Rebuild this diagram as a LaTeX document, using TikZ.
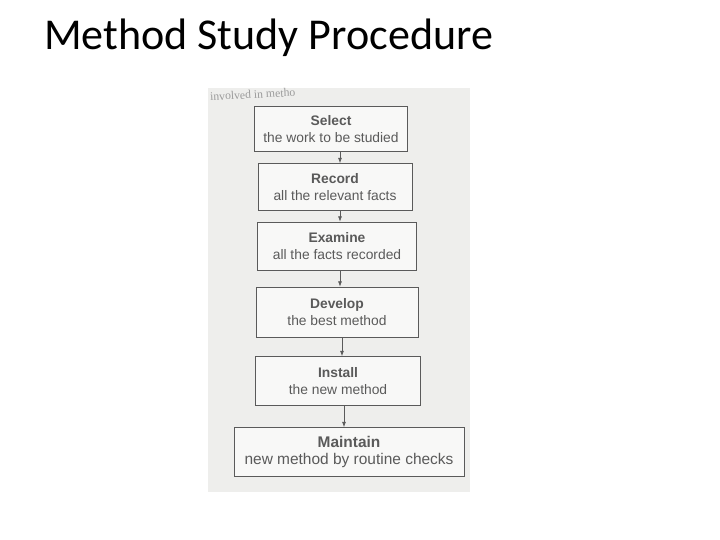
\documentclass[tikz,border=0pt]{standalone}
\usepackage{fontspec}
\setmainfont{Carlito}
\newfontfamily\boxfont{Liberation Sans}
\newfontfamily\pagefont{Liberation Serif}
\usepackage{xcolor}
\usetikzlibrary{arrows.meta, positioning}

\definecolor{inkgray}{HTML}{5A5A5A}
\definecolor{photogray}{HTML}{EEEEEC}

\tikzset{
    stepbox/.style={draw=inkgray, line width=0.6pt, fill=white!60!photogray, align=center,
        text=inkgray, font=\boxfont\fontsize{11.8}{14}\selectfont, inner sep=2pt},
    flow/.style={->, draw=inkgray, line width=0.6pt},
}

\begin{document}
\begin{tikzpicture}[x=0.03cm, y=-0.03cm, >={Latex[length=1.6mm, width=1.2mm]}]
    \useasboundingbox (0,0) rectangle (720,540);
    % photo of the textbook page
    \fill[photogray] (208,88) rectangle (470,492);
    \node[anchor=west, text=inkgray!60, font=\pagefont\fontsize{10}{12}\selectfont, rotate=3]
        (pageline) at (206,97) {involved in metho};
    % title
    \node[anchor=west, font=\fontsize{37.6}{45}\selectfont] (title) at (40,38) {Method Study Procedure};
    % the six steps
    \node[stepbox, minimum width=4.59cm, minimum height=1.35cm] (select) at (331,129)
        {\textbf{Select}\\the work to be studied};
    \node[stepbox, minimum width=4.62cm, minimum height=1.41cm] (record) at (335,187)
        {\textbf{Record}\\all the relevant facts};
    \node[stepbox, minimum width=4.77cm, minimum height=1.44cm] (examine) at (337,246)
        {\textbf{Examine}\\all the facts recorded};
    \node[stepbox, minimum width=4.86cm, minimum height=1.50cm] (develop) at (337,312)
        {\textbf{Develop}\\the best method};
    \node[stepbox, minimum width=4.95cm, minimum height=1.47cm] (install) at (338,381)
        {\textbf{Install}\\the new method};
    \node[stepbox, minimum width=6.90cm, minimum height=1.47cm,
        font=\boxfont\fontsize{13.2}{15}\selectfont] (maintain) at (349,452)
        {\textbf{Maintain}\\new method by routine checks};
    % arrows between steps
    \draw[flow] (select.south -| 340,0) -- (record.north -| 340,0);
    \draw[flow] (record.south -| 340,0) -- (examine.north -| 340,0);
    \draw[flow] (examine.south -| 340,0) -- (develop.north -| 340,0);
    \draw[flow] (develop.south -| 342,0) -- (install.north -| 342,0);
    \draw[flow] (install.south -| 344,0) -- (maintain.north -| 344,0);
\end{tikzpicture}
\end{document}
